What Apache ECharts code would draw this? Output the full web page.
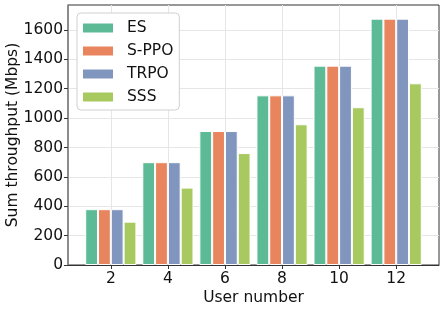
<!DOCTYPE html>
<html><head><meta charset="utf-8">
<script src="https://cdn.jsdelivr.net/npm/echarts@6/dist/echarts.min.js"></script>
<style>html,body{margin:0;padding:0;background:#fff}#c{width:445px;height:311px}</style>
</head><body><div id="c"></div>
<script>
const categories = [2, 4, 6, 8, 10, 12];
const seriesNames = ['ES', 'S-PPO', 'TRPO', 'SSS'];
const esValues = [380, 700, 912, 1155, 1357, 1677];
const sppoValues = [380, 700, 912, 1155, 1357, 1677];
const trpoValues = [380, 700, 912, 1155, 1357, 1677];
const sssValues = [295, 527, 762, 958, 1074, 1237];
const yTicks = [0, 200, 400, 600, 800, 1000, 1200, 1400, 1600];
const colors = ['#5cbb96', '#e8845e', '#8196be', '#a8c860'];

const allValues = [esValues, sppoValues, trpoValues, sssValues];
const font = 'DejaVu Sans';
const fs = 15.5;
const chart = echarts.init(document.getElementById('c'), null, {renderer: 'canvas'});
chart.setOption({
  animation: false,
  color: colors,
  grid: {left: 68, right: 6, top: 5, bottom: 46, containLabel: false, outerBoundsMode: 'none', show: true, borderColor: '#333', borderWidth: 1, backgroundColor: 'transparent'},
  legend: {
    orient: 'vertical', left: 77, top: 13,
    data: seriesNames,
    icon: 'rect', itemWidth: 30, itemHeight: 9, itemGap: 7,
    padding: [7, 6, 5, 6],
    backgroundColor: '#fff', borderColor: '#d0d0d0', borderWidth: 1, borderRadius: 4,
    textStyle: {fontFamily: font, fontSize: fs, color: '#111', lineHeight: 16, padding: [0, 0, 0, 9]},
    itemStyle: {borderWidth: 0}
  },
  xAxis: {
    type: 'value', min: 0.5, max: 13.5,
    name: 'User number', nameLocation: 'middle', nameGap: 25, nameMoveOverlap: false,
    nameTextStyle: {fontFamily: font, fontSize: fs, color: '#111'},
    axisLine: {show: true, lineStyle: {color: '#333', width: 1}},
    axisTick: {show: true, length: 4, lineStyle: {color: '#333'}, customValues: categories},
    axisLabel: {fontFamily: font, fontSize: fs, color: '#111', margin: 6, customValues: categories, formatter: v => String(v)},
    splitLine: {show: true, lineStyle: {color: '#e6e6e6', width: 1}}
  },
  yAxis: {
    type: 'value', min: 0, max: 1770,
    name: 'Sum throughput (Mbps)', nameLocation: 'middle', nameGap: 47, nameMoveOverlap: false,
    nameTextStyle: {fontFamily: font, fontSize: fs, color: '#111'},
    axisLine: {show: true, lineStyle: {color: '#888', width: 1.5}},
    axisTick: {show: true, length: 4, lineStyle: {color: '#333'}, customValues: yTicks},
    axisLabel: {fontFamily: font, fontSize: fs, color: '#111', margin: 5, customValues: yTicks, formatter: v => String(v)},
    splitLine: {show: true, lineStyle: {color: '#e6e6e6', width: 1}}
  },
  series: seriesNames.map((n, i) => ({
    name: n, type: 'bar',
    barWidth: 12.8, barGap: '0%',
    itemStyle: {color: colors[i], borderColor: '#fff', borderWidth: 1},
    data: categories.map((c, j) => [c, allValues[i][j]])
  }))
});
</script></body></html>
